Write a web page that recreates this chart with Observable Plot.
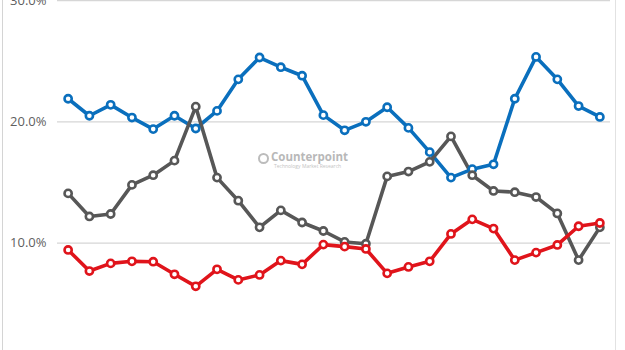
<!DOCTYPE html>
<html>
<head>
<meta charset="utf-8">
<script src="https://cdn.jsdelivr.net/npm/d3@7"></script>
<script src="https://cdn.jsdelivr.net/npm/@observablehq/plot@0.6"></script>
<style>
  html, body { margin: 0; padding: 0; background: #fff; overflow: hidden; }
  #wrap { position: relative; width: 625px; height: 350px; overflow: hidden; }
  #frameL { position: absolute; left: 2px; top: 0; width: 1px; height: 350px; background: #d4d4d4; }
  #frameR { position: absolute; left: 615px; top: 0; width: 1px; height: 350px; background: #e2e2e2; }
  #wm { position: absolute; left: 258px; top: 151px; width: 90px; height: 20px; color: #b8b8b8; font-family: "Open Sans", sans-serif; }
  #wm .ic { position: absolute; left: 0; top: 2px; width: 7px; height: 7px; border: 2px solid #bcbcbc; border-radius: 50%; }
  #wm .t { position: absolute; left: 13px; top: 0px; font-size: 11.5px; line-height: 12px; font-weight: 700; white-space: nowrap; }
  #wm .s { position: absolute; left: 16px; top: 13px; font-size: 5px; line-height: 5px; white-space: nowrap; color: #c4c4c4; }
</style>
</head>
<body>
<div id="wrap">
  <div id="chart"></div>
  <div id="frameL"></div>
  <div id="frameR"></div>
  <div id="wm"><span class="ic"></span><span class="t">Counterpoint</span><span class="s">Technology Market Research</span></div>
</div>
<script>
const periods = d3.range(26);
const blue = [21.9, 20.5, 21.4, 20.35, 19.4, 20.5, 19.45, 20.9, 23.5, 25.3, 24.5, 23.8, 20.55, 19.3, 20.0, 21.2, 19.5, 17.5, 15.4, 16.1, 16.5, 21.9, 25.35, 23.5, 21.3, 20.4];
const gray = [14.1, 12.2, 12.4, 14.8, 15.6, 16.8, 21.25, 15.4, 13.5, 11.3, 12.7, 11.7, 11.0, 10.1, 9.95, 15.5, 15.9, 16.7, 18.8, 15.6, 14.3, 14.2, 13.8, 12.45, 8.6, 11.3];
const red = [9.44, 7.7, 8.33, 8.5, 8.47, 7.43, 6.44, 7.84, 6.97, 7.38, 8.56, 8.25, 9.88, 9.71, 9.52, 7.51, 8.04, 8.5, 10.76, 11.96, 11.2, 8.6, 9.22, 9.85, 11.39, 11.66];
const yTicks = [10, 20, 30];

const seriesList = [
  {name: "blue", values: blue, color: "#0a6fbd"},
  {name: "gray", values: gray, color: "#575757"},
  {name: "red", values: red, color: "#e0141b"}
];
const rows = seriesList.flatMap(s => s.values.map((v, i) => ({series: s.name, i: periods[i], v})));
const colorMap = Object.fromEntries(seriesList.map(s => [s.name, s.color]));

const chart = Plot.plot({
  width: 625,
  height: 350,
  marginLeft: 57,
  marginRight: 15,
  marginTop: 0,
  marginBottom: 0,
  style: {fontFamily: "'Open Sans', sans-serif", fontSize: "13px", color: "#606060", background: "#fff"},
  x: {domain: [-0.5, 25.5], axis: null},
  y: {domain: [1.15, 30]},
  marks: [
    Plot.ruleY(yTicks, {stroke: "#d6d6d6", strokeWidth: 1.3}),
    Plot.axisY(yTicks, {tickSize: 0, tickPadding: 11, label: null, tickFormat: d => d.toFixed(1) + "%", fontSize: 13, fill: "#5f5f5f"}),
    Plot.line(rows, {x: "i", y: "v", z: "series", stroke: d => colorMap[d.series], strokeWidth: 3.6, strokeLinejoin: "round"}),
    Plot.dot(rows, {x: "i", y: "v", r: 3.6, fill: "white", stroke: d => colorMap[d.series], strokeWidth: 2.6})
  ]
});
document.getElementById("chart").appendChild(chart);
</script>
</body>
</html>
